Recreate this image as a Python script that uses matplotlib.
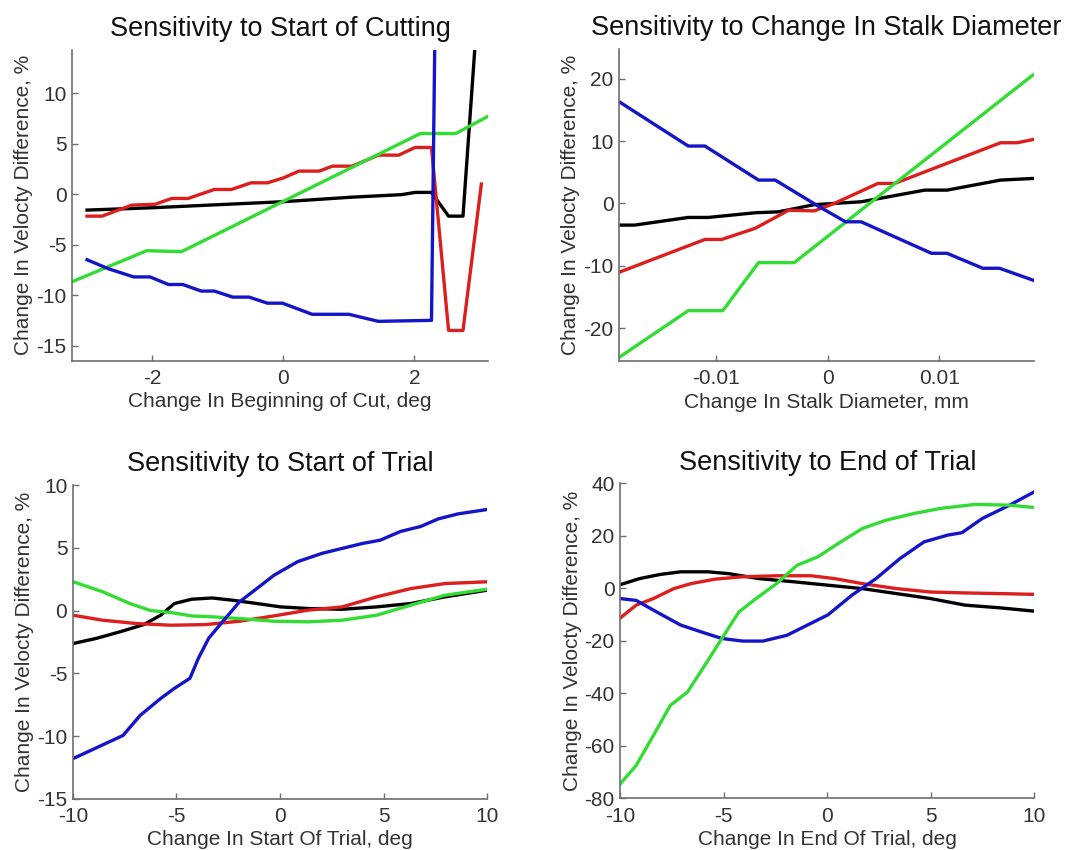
import matplotlib
matplotlib.use("Agg")
import matplotlib.pyplot as plt

plt.rcParams["font.family"] = ["Liberation Sans", "DejaVu Sans"]
plt.rcParams["axes.unicode_minus"] = False

BLUE = "#1414c8"
RED = "#dc1e1e"
GREEN = "#32dc32"
BLACK = "#000000"

# --- Sensitivity to start of cutting (x in deg) ---
cut_blue_x = [-2.99, -2.66, -2.28, -2.03, -1.75, -1.53, -1.25, -1.05, -0.77, -0.52,
              -0.24, -0.01, 0.44, 1.0, 1.45, 2.26, 2.52]
cut_blue_y = [-6.5, -7.4, -8.2, -8.2, -8.95, -8.95, -9.6, -9.6, -10.2, -10.2,
              -10.8, -10.8, -11.9, -11.9, -12.6, -12.5, 130.0]
cut_red_x = [-2.99, -2.76, -2.31, -1.95, -1.70, -1.45, -1.05, -0.79, -0.49, -0.24,
             0.0, 0.24, 0.55, 0.75, 1.05, 1.45, 1.76, 2.01, 2.26, 2.52, 2.74, 3.02]
cut_red_y = [-2.18, -2.18, -1.09, -1.0, -0.43, -0.43, 0.46, 0.46, 1.12, 1.12,
             1.6, 2.28, 2.28, 2.77, 2.77, 3.86, 3.86, 4.62, 4.62, -13.5, -13.5, 1.0]
cut_black_x = [-2.99, -2.0, -1.0, 0.0, 1.05, 1.81, 2.01, 2.26, 2.52, 2.74, 3.0]
cut_black_y = [-1.58, -1.35, -1.05, -0.75, -0.3, -0.05, 0.17, 0.17, -2.18, -2.18, 21.7]
cut_green_x = [-3.22, -2.08, -1.55, 2.09, 2.63, 3.12]
cut_green_y = [-8.68, -5.6, -5.7, 6.0, 6.0, 7.7]

# --- Sensitivity to stalk diameter (x in mm) ---
dia_blue_x = [-0.0186, -0.0125, -0.0110, -0.0062, -0.0047, -0.0009, 0.0016, 0.0030,
              0.0093, 0.0107, 0.0139, 0.0154, 0.0184]
dia_blue_y = [16.2, 9.2, 9.2, 3.74, 3.74, -0.38, -2.95, -2.95, -8.0, -8.0, -10.4, -10.4, -12.3]
dia_red_x = [-0.0186, -0.0110, -0.0095, -0.0065, -0.0035, -0.0012, 0.0006, 0.0045,
             0.0060, 0.0155, 0.0170, 0.0184]
dia_red_y = [-10.98, -5.78, -5.78, -4.0, -1.1, -1.2, 0.0, 3.2, 3.2, 9.73, 9.73, 10.24]
dia_black_x = [-0.0186, -0.0173, -0.0125, -0.0107, -0.0065, -0.0044, -0.0012, 0.0030,
               0.0087, 0.0107, 0.0155, 0.0184]
dia_black_y = [-3.48, -3.48, -2.25, -2.25, -1.5, -1.35, -0.2, 0.26, 2.13, 2.13, 3.74, 4.0]
dia_green_x = [-0.0187, -0.0125, -0.0094, -0.0062, -0.0030, 0.0184]
dia_green_y = [-24.7, -17.2, -17.2, -9.5, -9.5, 20.6]

# --- Sensitivity to start of trial (x in deg) ---
st_blue_x = [-10.0, -7.58, -6.75, -5.76, -5.1, -4.35, -3.94, -3.44, -2.78, -1.95,
             -1.12, -0.3, 0.86, 2.02, 3.0, 4.0, 4.83, 5.82, 6.8, 7.64, 8.6, 10.0]
st_blue_y = [-11.8, -9.95, -8.35, -7.0, -6.2, -5.4, -3.8, -2.2, -0.9, 0.7,
             1.75, 2.8, 3.9, 4.55, 4.95, 5.35, 5.6, 6.3, 6.7, 7.3, 7.7, 8.05]
st_green_x = [-10.0, -8.57, -7.25, -6.25, -5.26, -4.27, -3.28, -1.95, -0.3, 1.36,
              3.0, 4.67, 6.32, 7.97, 10.0]
st_green_y = [2.3, 1.5, 0.56, 0.0, -0.16, -0.43, -0.5, -0.64, -0.85, -0.9,
              -0.77, -0.37, 0.43, 1.22, 1.7]
st_red_x = [-10.0, -8.57, -6.9, -5.26, -3.6, -1.95, -0.3, 1.36, 3.0, 4.67, 6.32, 7.97, 10.0]
st_red_y = [-0.37, -0.77, -1.04, -1.17, -1.12, -0.85, -0.43, 0.03, 0.29, 1.09, 1.75, 2.15, 2.29]
st_black_x = [-10.0, -8.9, -7.74, -6.58, -5.76, -5.1, -4.27, -3.28, -2.28, -1.12,
              0.03, 1.36, 3.0, 4.67, 6.32, 7.97, 10.0]
st_black_y = [-2.63, -2.23, -1.7, -1.12, -0.37, 0.56, 0.9, 1.0, 0.82, 0.56,
              0.29, 0.16, 0.1, 0.29, 0.56, 1.09, 1.62]

# --- Sensitivity to end of trial (x in deg) ---
et_green_x = [-10.0, -9.23, -8.4, -7.58, -6.75, -5.92, -5.1, -4.27, -3.44, -2.45,
              -1.46, -0.46, 0.53, 1.69, 2.85, 4.17, 5.49, 7.15, 8.8, 10.0]
et_green_y = [-74.5, -67.5, -56.1, -44.6, -39.5, -29.4, -19.2, -9.0, -3.9, 1.8,
              8.8, 12.0, 17.1, 22.8, 26.0, 28.5, 30.5, 32.0, 31.7, 30.8]
et_blue_x = [-10.0, -9.23, -8.24, -7.08, -6.09, -5.1, -4.1, -3.11, -1.95, -0.96,
             0.03, 1.19, 2.35, 3.5, 4.67, 5.82, 6.5, 7.48, 8.8, 10.0]
et_blue_y = [-3.9, -4.6, -9.0, -14.0, -16.6, -19.1, -20.1, -20.1, -17.9, -14.0,
             -10.1, -2.6, 3.7, 11.3, 17.7, 20.3, 21.2, 26.6, 31.7, 36.8]
et_red_x = [-10.0, -9.23, -8.4, -7.41, -6.58, -5.43, -4.1, -2.45, -0.79, 0.36,
            1.69, 3.34, 4.99, 6.65, 8.3, 10.0]
et_red_y = [-11.3, -6.4, -3.9, -0.1, 1.8, 3.5, 4.4, 4.8, 4.8, 3.7,
            1.8, -0.1, -1.4, -1.75, -2.0, -2.3]
et_black_x = [-10.0, -9.07, -8.07, -7.08, -5.76, -4.76, -3.28, -1.62, 0.03, 1.69,
              3.34, 4.99, 6.65, 8.3, 10.0]
et_black_y = [1.4, 3.7, 5.3, 6.3, 6.3, 5.6, 3.7, 2.5, 1.2, -0.1,
              -2.0, -3.9, -6.4, -7.4, -8.7]

YLABEL = "Change In Velocty Difference, %"

panels = [
    dict(rect=[0.0670, 0.5756, 0.3873, 0.3659],
         title="Sensitivity to Start of Cutting",
         xlabel="Change In Beginning of Cut, deg",
         xlim=(-3.22, 3.12), ylim=(-16.5, 14.3),
         xticks=[-2, 0, 2], yticks=[-15, -10, -5, 0, 5, 10],
         series=[(cut_black_x, cut_black_y, BLACK), (cut_red_x, cut_red_y, RED),
                 (cut_green_x, cut_green_y, GREEN), (cut_blue_x, cut_blue_y, BLUE)]),
    dict(rect=[0.5764, 0.5751, 0.3864, 0.3668],
         title="Sensitivity to Change In Stalk Diameter",
         xlabel="Change In Stalk Diameter, mm",
         xlim=(-0.0187, 0.0185), ylim=(-25.3, 24.7),
         xticks=[-0.01, 0, 0.01], yticks=[-20, -10, 0, 10, 20],
         series=[(dia_black_x, dia_black_y, BLACK), (dia_red_x, dia_red_y, RED),
                 (dia_green_x, dia_green_y, GREEN), (dia_blue_x, dia_blue_y, BLUE)]),
    dict(rect=[0.0679, 0.0602, 0.3856, 0.3692],
         title="Sensitivity to Start of Trial",
         xlabel="Change In Start Of Trial, deg",
         xlim=(-10, 10), ylim=(-15, 10),
         xticks=[-10, -5, 0, 5, 10], yticks=[-15, -10, -5, 0, 5, 10],
         series=[(st_black_x, st_black_y, BLACK), (st_red_x, st_red_y, RED),
                 (st_green_x, st_green_y, GREEN), (st_blue_x, st_blue_y, BLUE)]),
    dict(rect=[0.5775, 0.0609, 0.3856, 0.3704],
         title="Sensitivity to End of Trial",
         xlabel="Change In End Of Trial, deg",
         xlim=(-10, 10), ylim=(-80, 40),
         xticks=[-10, -5, 0, 5, 10], yticks=[-80, -60, -40, -20, 0, 20, 40],
         series=[(et_black_x, et_black_y, BLACK), (et_red_x, et_red_y, RED),
                 (et_blue_x, et_blue_y, BLUE), (et_green_x, et_green_y, GREEN)]),
]

fig = plt.figure(figsize=(10.74, 8.5), dpi=100)

for p in panels:
    ax = fig.add_axes(p["rect"])
    for xs, ys, color in p["series"]:
        ax.plot(xs, ys, color=color, linewidth=2.4, solid_joinstyle="round")
    ax.set_xlim(*p["xlim"])
    ax.set_ylim(*p["ylim"])
    ax.set_xticks(p["xticks"])
    ax.set_xticklabels(["{:g}".format(v) for v in p["xticks"]])
    ax.set_yticks(p["yticks"])
    ax.set_yticklabels([str(v) for v in p["yticks"]])
    for side in ("top", "right"):
        ax.spines[side].set_visible(False)
    for side in ("left", "bottom"):
        ax.spines[side].set_color("#6e6e6e")
        ax.spines[side].set_linewidth(1.2)
    ax.tick_params(direction="in", length=4, width=1, colors="#6e6e6e",
                   labelcolor="#333333", labelsize=15)
    ax.tick_params(axis="x", pad=6)
    ax.tick_params(axis="y", pad=4)
    ax.set_title(p["title"], fontsize=19.5, color="#111111", pad=10)
    ax.set_xlabel(p["xlabel"], fontsize=15, color="#333333", labelpad=3)
    ax.set_ylabel(YLABEL, fontsize=15, color="#333333", labelpad=2)

fig.savefig("out.png", dpi=100, facecolor="white")
